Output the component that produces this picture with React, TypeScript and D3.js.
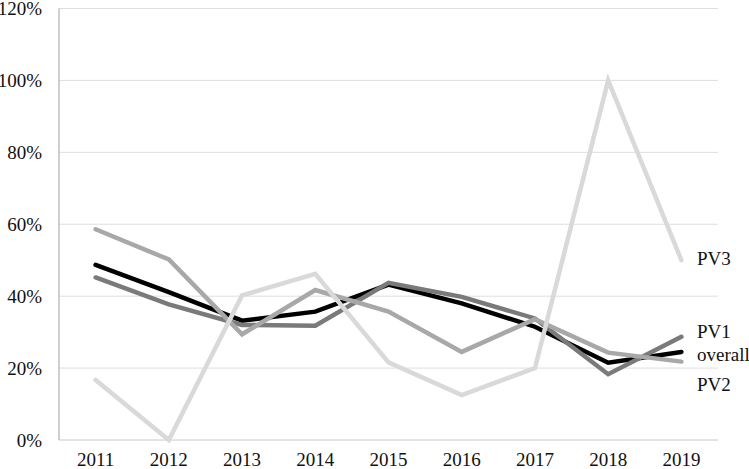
import React from "react";
import * as d3 from "d3";

const years = ["2011", "2012", "2013", "2014", "2015", "2016", "2017", "2018", "2019"];
const overall = [0.487, 0.411, 0.332, 0.357, 0.432, 0.38, 0.315, 0.215, 0.245];
const pv1 = [0.452, 0.377, 0.32, 0.318, 0.437, 0.398, 0.338, 0.183, 0.287];
const pv2 = [0.586, 0.502, 0.294, 0.417, 0.357, 0.245, 0.336, 0.243, 0.218];
const pv3 = [0.167, 0.0, 0.402, 0.462, 0.216, 0.125, 0.2, 1.0, 0.5];
const yTicks = [0, 0.2, 0.4, 0.6, 0.8, 1.0, 1.2];

const seriesList = [
  { name: "overall", values: overall, color: "#000000", labelY: 354 },
  { name: "PV1", values: pv1, color: "#7a7a7a", labelY: 331 },
  { name: "PV2", values: pv2, color: "#a8a8a8", labelY: 384 },
  { name: "PV3", values: pv3, color: "#d9d9d9", labelY: 258 },
];

const W = 749;
const H = 469;
const left = 59;
const right = 718;
const top = 8.5;
const bottom = 440;

export default function App() {
  const x = d3.scaleBand<string>().domain(years).range([left, right]);
  const y = d3.scaleLinear().domain([0, 1.2]).range([bottom, top]);
  const cx = (yr: string) => (x(yr) as number) + x.bandwidth() / 2;
  const line = d3
    .line<number>()
    .x((_, i) => cx(years[i]))
    .y((v) => y(v));
  const font = "Liberation Serif, Tinos, DejaVu Serif, serif";

  return (
    <svg
      width={W}
      height={H}
      style={{ position: "absolute", left: 0, top: 0, background: "#fff", fontFamily: font }}
    >
      <rect x={0} y={0} width={W} height={H} fill="#fff" />
      {yTicks.map((t) => (
        <g key={t}>
          <line
            x1={left}
            x2={right}
            y1={y(t)}
            y2={y(t)}
            stroke={t === 0 ? "#c8c8c8" : "#dedede"}
            strokeWidth={1}
          />
          <text
            x={42}
            y={y(t)}
            textAnchor="end"
            dominantBaseline="central"
            fontSize={19}
            fill="#111"
          >
            {d3.format(".0%")(t)}
          </text>
        </g>
      ))}
      <line x1={left} x2={left} y1={top} y2={bottom} stroke="#a0a0a0" strokeWidth={1} />
      {years.map((yr) => (
        <text key={yr} x={cx(yr)} y={466} textAnchor="middle" fontSize={19} fill="#111">
          {yr}
        </text>
      ))}
      {seriesList.map((s) => (
        <path
          key={s.name}
          d={line(s.values) as string}
          fill="none"
          stroke={s.color}
          strokeWidth={4.5}
          strokeLinejoin="miter"
          strokeLinecap="round"
        />
      ))}
      {seriesList.map((s) => (
        <text
          key={s.name + "-lbl"}
          x={697}
          y={s.labelY}
          dominantBaseline="central"
          fontSize={19}
          fill="#111"
        >
          {s.name}
        </text>
      ))}
    </svg>
  );
}
